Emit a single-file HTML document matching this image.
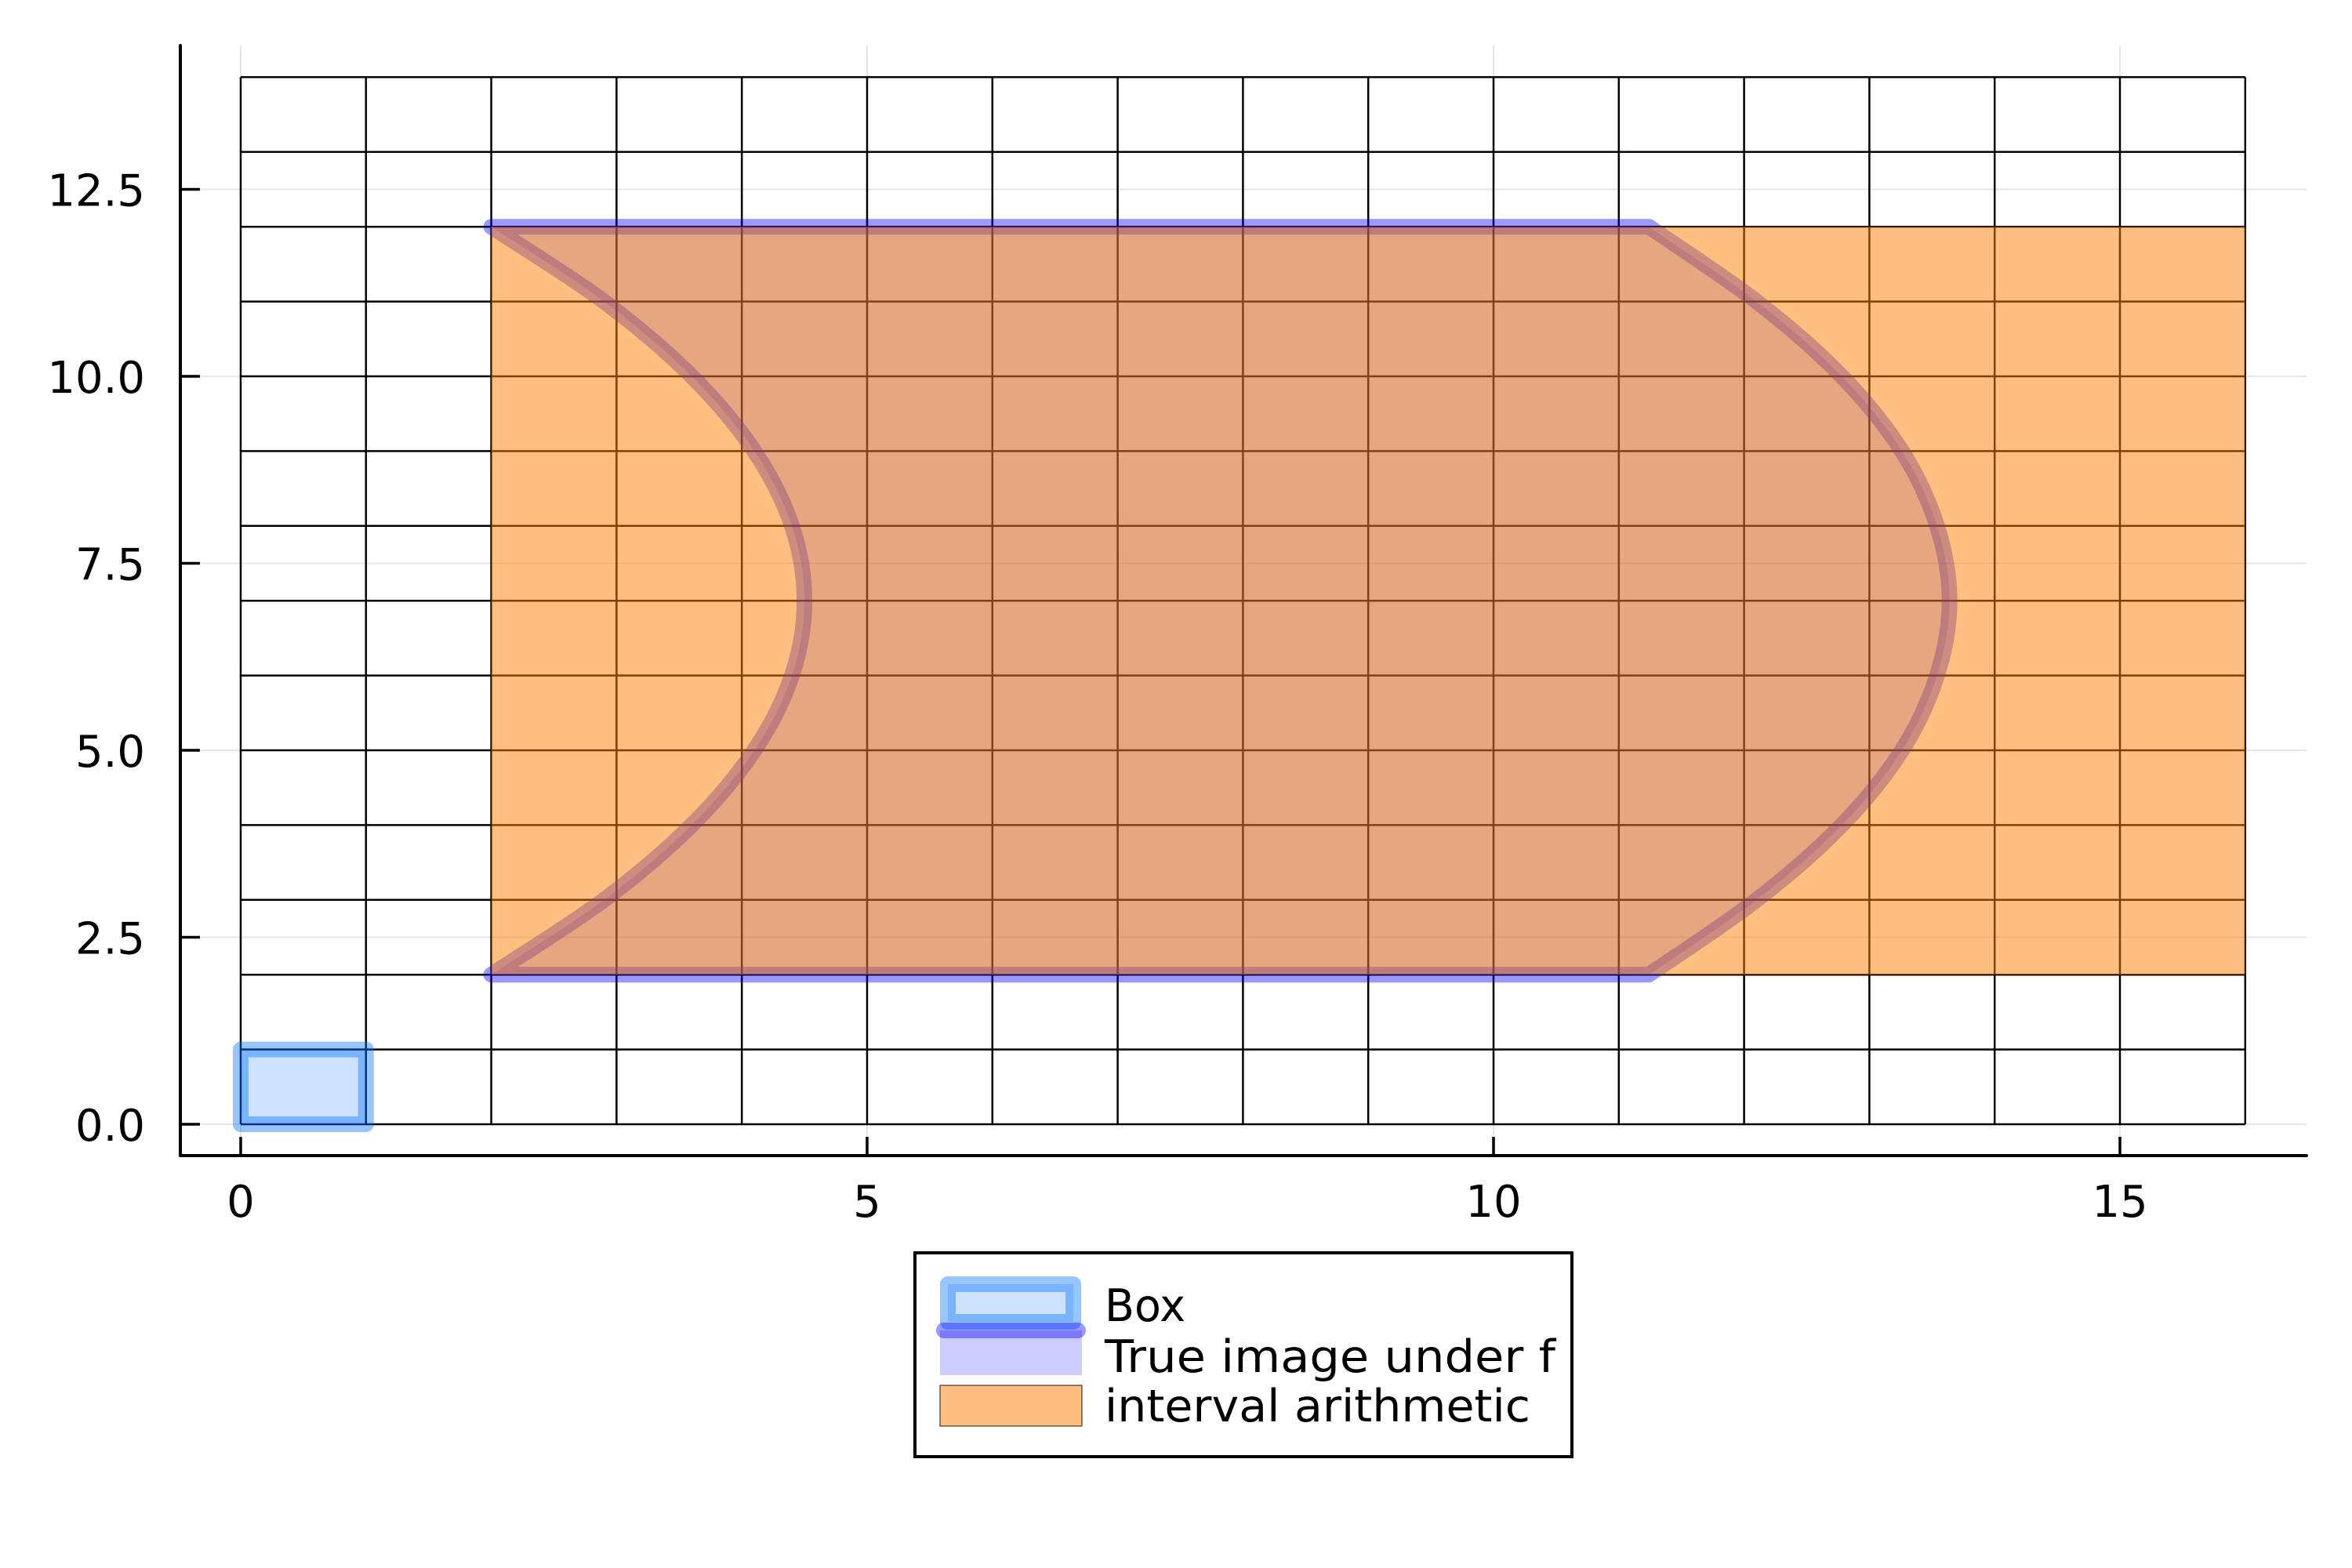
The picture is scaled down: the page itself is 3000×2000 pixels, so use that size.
<!DOCTYPE html>
<html><head><meta charset="utf-8">
<style>
html,body{margin:0;padding:0;background:#fff;}
svg{display:block;}
text{font-family:"DejaVu Sans","Liberation Sans",sans-serif;fill:#000;}
</style></head>
<body>
<svg id="chart" width="3000" height="2000" viewBox="0 0 3000 2000" xmlns="http://www.w3.org/2000/svg">
<rect width="3000" height="2000" fill="#fff"/>
<g id="bg-grid"></g>
<g id="box-grid"></g>
<g id="series"></g>
<g id="axes"></g>
<g id="legend"></g>
</svg>
<script>
// ---- data ----
const xTicks = [0, 5, 10, 15];
const xTickLabels = ["0", "5", "10", "15"];
const yTicks = [0, 2.5, 5, 7.5, 10, 12.5];
const yTickLabels = ["0.0", "2.5", "5.0", "7.5", "10.0", "12.5"];
const gridXMax = 16;
const gridYMax = 14;
const boxX = [0, 1];
const boxY = [0, 1];
const intervalX = [2, 16];
const intervalY = [2, 12];
const imageY = [2, 3, 4, 5, 6, 7, 8, 9, 10, 11, 12];
const imageLeftX = [2, 2.9, 3.6, 4.1, 4.4, 4.5, 4.4, 4.1, 3.6, 2.9, 2];
const imageRightX = [11.24, 12.1, 12.78, 13.26, 13.54, 13.64, 13.54, 13.26, 12.78, 12.1, 11.24];

// ---- scales ----
const X0 = 307, XU = 159.8, Y0 = 1434, YU = 95.4;
const sx = v => X0 + v * XU;
const sy = v => Y0 - v * YU;
const NS = "http://www.w3.org/2000/svg";
function mk(tag, attrs, parent) {
  const e = document.createElementNS(NS, tag);
  for (const k in attrs) e.setAttribute(k, attrs[k]);
  parent.appendChild(e);
  return e;
}
const bg = document.getElementById('bg-grid');
const bgrid = document.getElementById('box-grid');
const ser = document.getElementById('series');
const axes = document.getElementById('axes');
const PL = 230, PR = 2942, PT = 58, PB = 1474;

xTicks.forEach(t => {
  const l = mk('line', {x1: sx(t), x2: sx(t), y1: PT, y2: PB, stroke: '#e6e6e6', 'stroke-width': 2}, bg);
  
  
});
yTicks.forEach(t => {
  const l = mk('line', {x1: PL, x2: PR, y1: sy(t), y2: sy(t), stroke: '#e6e6e6', 'stroke-width': 2}, bg);
  
  
});

for (let i = 0; i <= gridXMax; i++) {
  const l = mk('line', {x1: sx(i), x2: sx(i), y1: sy(0), y2: sy(gridYMax), stroke: '#000', 'stroke-width': 2.5}, bgrid);
  
  
}
for (let j = 0; j <= gridYMax; j++) {
  const l = mk('line', {x1: sx(0), x2: sx(gridXMax), y1: sy(j), y2: sy(j), stroke: '#000', 'stroke-width': 2.5}, bgrid);
  
  
}

const boxRect = mk('rect', {x: sx(boxX[0]), y: sy(boxY[1]), width: sx(boxX[1]) - sx(boxX[0]), height: sy(boxY[0]) - sy(boxY[1]),
  fill: 'rgb(0,110,255)', 'fill-opacity': 0.2, stroke: 'rgb(0,110,255)', 'stroke-opacity': 0.4, 'stroke-width': 20, 'stroke-linejoin': 'round'}, ser);



function curve(pts) {
  let d = '';
  for (let i = 0; i < pts.length - 1; i++) {
    const p0 = pts[Math.max(0, i - 1)], p1 = pts[i], p2 = pts[i + 1], p3 = pts[Math.min(pts.length - 1, i + 2)];
    const c1 = [p1[0] + (p2[0] - p0[0]) / 6, p1[1] + (p2[1] - p0[1]) / 6];
    const c2 = [p2[0] - (p3[0] - p1[0]) / 6, p2[1] - (p3[1] - p1[1]) / 6];
    d += ` C${c1[0]},${c1[1]} ${c2[0]},${c2[1]} ${p2[0]},${p2[1]}`;
  }
  return d;
}
const rightPts = imageY.map((y, i) => [sx(imageRightX[i]), sy(y)]);
const leftPts = imageY.map((y, i) => [sx(imageLeftX[i]), sy(y)]).reverse();
let d = `M${leftPts[leftPts.length - 1][0]},${leftPts[leftPts.length - 1][1]}`;
d += ` L${rightPts[0][0]},${rightPts[0][1]}` + curve(rightPts);
d += ` L${leftPts[0][0]},${leftPts[0][1]}` + curve(leftPts) + ' Z';
const img = mk('path', {d: d, fill: 'rgb(0,0,255)', 'fill-opacity': 0.2, stroke: 'rgb(0,0,255)', 'stroke-opacity': 0.4,
  'stroke-width': 20, 'stroke-linejoin': 'round', 'stroke-linecap': 'round'}, ser);



const iv = mk('rect', {x: sx(intervalX[0]), y: sy(intervalY[1]), width: sx(intervalX[1]) - sx(intervalX[0]),
  height: sy(intervalY[0]) - sy(intervalY[1]), fill: 'rgb(255,127,0)', 'fill-opacity': 0.5}, ser);



mk('line', {x1: PL, x2: PL, y1: PT, y2: PB, stroke: '#000', 'stroke-width': 4, 'stroke-linecap': 'round',  }, axes);
mk('line', {x1: PL, x2: PR, y1: PB, y2: PB, stroke: '#000', 'stroke-width': 4, 'stroke-linecap': 'round',  }, axes);
xTicks.forEach((t, i) => {
  const tk = mk('line', {x1: sx(t), x2: sx(t), y1: PB, y2: PB - 24, stroke: '#000', 'stroke-width': 3.5}, axes);
  
  
  const tx = mk('text', {x: sx(t), y: 1552, 'font-size': 56, 'text-anchor': 'middle'}, axes);
  tx.textContent = xTickLabels[i];
  
  
});
yTicks.forEach((t, i) => {
  const tk = mk('line', {x1: PL, x2: PL + 25, y1: sy(t), y2: sy(t), stroke: '#000', 'stroke-width': 3.5}, axes);
  
  
  const tx = mk('text', {x: 185, y: sy(t) + 21, 'font-size': 56, 'text-anchor': 'end'}, axes);
  tx.textContent = yTickLabels[i];
  
  
});
</script>
<script>
(function(){
  const leg = document.getElementById('legend');
  leg.innerHTML = `
  <rect x="1167" y="1598" width="838" height="260" fill="#fff" stroke="#000" stroke-width="4"/>
  <g>
    <rect x="1209" y="1638" width="160" height="48" fill="rgb(0,110,255)" fill-opacity="0.2" stroke="rgb(0,110,255)" stroke-opacity="0.4" stroke-width="20" stroke-linejoin="round"/>
    <text x="1409" y="1685" font-size="57" textLength="103" lengthAdjust="spacingAndGlyphs">Box</text>
  </g>
  <g>
    <rect x="1199" y="1697" width="181" height="57" fill="rgb(0,0,255)" fill-opacity="0.2"/>
    <line x1="1204" y1="1697" x2="1375" y2="1697" stroke="rgb(0,0,255)" stroke-opacity="0.4" stroke-width="20" stroke-linecap="round"/>
    <text x="1409" y="1750" font-size="57" textLength="575" lengthAdjust="spacingAndGlyphs">True image under f</text>
  </g>
  <g>
    <rect x="1199" y="1767" width="181" height="52" fill="rgb(255,127,0)" fill-opacity="0.5" stroke="#000" stroke-opacity="0.6" stroke-width="1.5"/>
    <text x="1409" y="1813" font-size="57" textLength="543" lengthAdjust="spacingAndGlyphs">interval arithmetic</text>
  </g>`;
})();
</script>
</body></html>
